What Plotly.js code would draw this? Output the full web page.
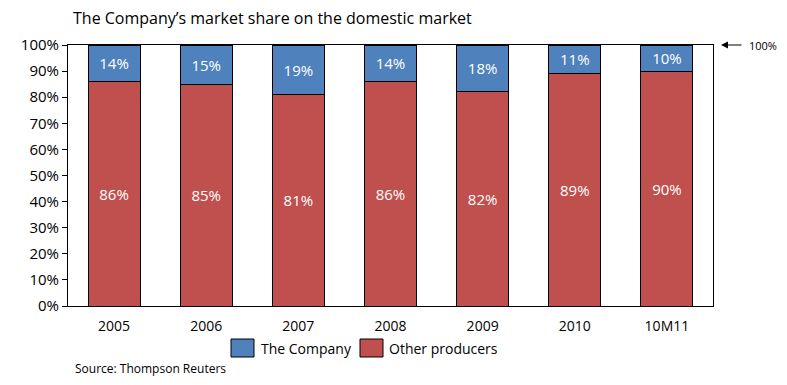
<!DOCTYPE html>
<html><head><meta charset="utf-8">
<script src="https://cdn.plot.ly/plotly-3.0.1.min.js"></script>
<style>body{margin:0;background:#fff}#c{width:787px;height:385px}</style>
</head><body><div id="c"></div>
<script>
var categories = ["2005","2006","2007","2008","2009","2010","10M11"];
var companyShare = [14,15,19,14,18,11,10];
var otherShare = [86,85,81,86,82,89,90];
var yTicks = [0,10,20,30,40,50,60,70,80,90,100];
var legendNames = ["The Company","Other producers"];
var legendColors = ["#4F81BD","#C0504D"];
var F = "Open Sans, sans-serif";
var L = 68, R = 713, T = 45, B = 306;
function px(x){return (x-L)/(R-L);}
function py(y){return (B-y)/(B-T);}
var traces = [
 {type:"bar", name:"Other producers", x:categories, y:otherShare, marker:{color:legendColors[1], line:{color:"#000", width:1}},
  text:otherShare.map(function(v){return v+"%";}), textposition:"inside", insidetextanchor:"middle",
  textfont:{color:"#fff", size:15, family:F}, hoverinfo:"skip", showlegend:false},
 {type:"bar", name:"The Company", x:categories, y:companyShare, marker:{color:legendColors[0], line:{color:"#000", width:1}},
  text:companyShare.map(function(v){return v+"%";}), textposition:"inside", insidetextanchor:"middle",
  textfont:{color:"#fff", size:15, family:F}, hoverinfo:"skip", showlegend:false}
];
var boxX = [231, 360];
var textX = [259, 387];
var shapes = [], annotations = [];
for (var i=0;i<2;i++){
  shapes.push({type:"rect", xref:"paper", yref:"paper", x0:px(boxX[i]), x1:px(boxX[i]+23), y0:py(357), y1:py(339),
    fillcolor:legendColors[i], line:{color:"#000", width:1}});
  annotations.push({xref:"paper", yref:"paper", x:px(textX[i]), y:py(348), xanchor:"left", yanchor:"middle",
    text:legendNames[i], showarrow:false, font:{size:14, family:F, color:"#000"}});
}
annotations.push({xref:"paper", yref:"y", x:1, y:100, ax:30, ay:0, text:"", showarrow:true, arrowhead:2, arrowsize:1.4, arrowwidth:1, arrowcolor:"#000", standoff:8});
annotations.push({xref:"paper", yref:"y", x:1, y:100, xshift:34, text:"100%", showarrow:false, xanchor:"left", yanchor:"middle", font:{size:11, family:F, color:"#000"}});
annotations.push({xref:"paper", yref:"paper", x:px(73), y:py(368), xanchor:"left", yanchor:"middle", text:"Source: Thompson Reuters", showarrow:false, font:{size:12, family:F, color:"#000"}});
var layout = {
 width:787, height:385, barmode:"stack", bargap:0.435,
 margin:{l:L, r:787-R, t:T, b:385-B},
 paper_bgcolor:"#fff", plot_bgcolor:"#fff",
 font:{family:F, color:"#000", size:14},
 title:{text:"The Company’s market share on the domestic market", x:73/787, xanchor:"left", y:1-18/385, yanchor:"middle", font:{size:16, family:F, color:"#000"}},
 xaxis:{type:"category", showline:true, linecolor:"#000", linewidth:1, mirror:true, ticks:"", tickfont:{size:14}, ticklabelstandoff:7, showgrid:false},
 yaxis:{range:[0,100], tickvals:yTicks, ticktext:yTicks.map(function(v){return v+"%";}), showline:true, linecolor:"#000", linewidth:1, mirror:true,
  ticks:"outside", ticklen:5, tickcolor:"#000", showgrid:false, zeroline:false, tickfont:{size:15}},
 showlegend:false,
 shapes:shapes,
 annotations:annotations
};
Plotly.newPlot("c", traces, layout, {displayModeBar:false, staticPlot:true});
</script></body></html>
